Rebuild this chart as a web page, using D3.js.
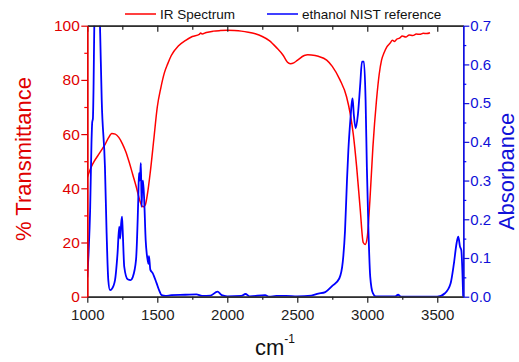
<!DOCTYPE html>
<html>
<head>
<meta charset="utf-8">
<script src="https://d3js.org/d3.v7.min.js"></script>
<style>
  body { margin: 0; background: #fff; }
  svg { font-family: 'Liberation Sans', Arial, sans-serif; }
</style>
</head>
<body>
<svg id="chart" width="519" height="362"></svg>
<script>
// IR spectrum (transmittance, %)
const irWavenumber = [1000, 1025, 1050, 1075, 1100, 1125, 1150, 1175, 1200, 1225, 1250, 1275, 1300, 1325, 1350, 1375, 1390, 1400, 1415, 1430, 1450, 1475, 1500, 1525, 1550, 1575, 1600, 1650, 1700, 1750, 1800, 1810, 1820, 1850, 1900, 1950, 2000, 2050, 2100, 2150, 2200, 2250, 2300, 2350, 2400, 2430, 2450, 2475, 2500, 2550, 2575, 2600, 2650, 2710, 2750, 2805, 2852, 2880, 2900, 2924, 2950, 2971, 2985, 3000, 3019, 3040, 3066, 3085, 3102, 3120, 3140, 3162, 3180, 3195, 3210, 3230, 3250, 3275, 3300, 3325, 3350, 3375, 3400, 3425, 3448]
const irTransmittance = [44, 47.5, 50, 52, 54, 56, 58.5, 60.2, 60, 58.8, 56.5, 53.5, 49.5, 45, 40.5, 35.5, 33.5, 33.2, 34, 38, 46, 58, 70, 77, 82.5, 86, 89, 92.5, 94.5, 96, 96.8, 97.3, 96.9, 97.5, 98, 98.2, 98.3, 98.2, 98, 97.6, 97, 96, 94.5, 92, 89, 86.5, 86, 86.3, 87.2, 89, 89.3, 89.2, 88.7, 87.3, 85, 80, 73.8, 67, 60, 48, 32, 20, 19.3, 22, 35.7, 55, 72.6, 82, 87.3, 90, 92.2, 93.5, 94.6, 94.2, 95, 95.4, 96.2, 95.8, 96.6, 96.4, 96.9, 96.8, 97.2, 97.1, 97.4]

// ethanol NIST reference (absorbance)
const refWavenumber = [1000, 1010, 1020, 1030, 1035, 1040, 1045, 1050, 1060, 1075, 1085, 1092, 1103, 1126, 1138, 1150, 1162, 1175, 1198, 1216, 1228, 1235, 1242, 1248, 1253, 1264, 1288, 1310, 1324, 1348, 1364, 1369, 1375, 1380, 1383, 1388, 1393, 1398, 1407, 1417, 1425, 1431, 1437, 1440, 1445, 1450, 1467, 1495, 1515, 1531, 1560, 1600, 1700, 1780, 1820, 1880, 1930, 1960, 2000, 2100, 2130, 2160, 2270, 2300, 2350, 2420, 2500, 2600, 2650, 2700, 2750, 2800, 2825, 2841, 2855, 2865, 2881, 2889, 2895, 2904, 2917, 2933, 2950, 2962, 2976, 2988, 2997, 3009, 3021, 3040, 3060, 3200, 3220, 3240, 3500, 3555, 3595, 3619, 3638, 3650, 3662, 3672, 3680, 3685]
const refAbsorbance = [0.05, 0.12, 0.22, 0.40, 0.45, 0.46, 0.55, 0.70, 0.78, 0.80, 0.78, 0.68, 0.508, 0.336, 0.164, 0.043, 0.017, 0.02, 0.043, 0.112, 0.181, 0.15, 0.19, 0.207, 0.17, 0.077, 0.045, 0.043, 0.05, 0.095, 0.25, 0.319, 0.30, 0.33, 0.345, 0.232, 0.29, 0.30, 0.245, 0.146, 0.11, 0.095, 0.085, 0.105, 0.09, 0.07, 0.061, 0.035, 0.015, 0.004, 0.002, 0.004, 0.005, 0.006, 0.002, 0.003, 0.013, 0.004, 0.001, 0.002, 0.007, 0.001, 0.004, 0.0, 0.002, 0.002, 0.001, 0.003, 0.008, 0.012, 0.028, 0.047, 0.09, 0.17, 0.3, 0.379, 0.465, 0.5, 0.512, 0.47, 0.435, 0.47, 0.55, 0.607, 0.607, 0.508, 0.336, 0.164, 0.052, 0.009, 0.001, 0.001, 0.005, 0.0, 0.0, 0.009, 0.034, 0.086, 0.138, 0.155, 0.13, 0.12, 0.06, 0.0]

const xMajorTicks = [1000, 1500, 2000, 2500, 3000, 3500]
const xMinorTicks = [1250, 1750, 2250, 2750, 3250]
const leftMajorTicks = [0, 20, 40, 60, 80, 100]
const leftMinorTicks = [10, 30, 50, 70, 90]
const rightMajorTicks = [0, 0.1, 0.2, 0.3, 0.4, 0.5, 0.6, 0.7]
const rightMinorTicks = [0.05, 0.15, 0.25, 0.35, 0.45, 0.55, 0.65]

const legendLabels = ['IR Spectrum', 'ethanol NIST reference']

const RED = '#ff0000'
const BLUE = '#0000ff'
const RED_TEXT = '#e00000'
const BLUE_TEXT = '#1010d8'

const margin = { top: 25.7, right: 55.7, bottom: 65.3, left: 87.3 }
const width = 519
const height = 362
const innerW = width - margin.left - margin.right
const innerH = height - margin.top - margin.bottom

const svg = d3.select('#chart')

const x = d3.scaleLinear().domain([1000, 3686]).range([margin.left, margin.left + innerW])
const yLeft = d3.scaleLinear().domain([0, 100]).range([margin.top + innerH, margin.top])
const yRight = d3.scaleLinear().domain([0, 0.7]).range([margin.top + innerH, margin.top])

function styleAxis(g, color, fontSize) {
  g.select('.domain').attr('stroke', color).attr('stroke-width', 1.3)
  g.selectAll('.tick line').attr('stroke', color).attr('stroke-width', 1.2)
  g.selectAll('.tick text').attr('fill', color).style('font-size', fontSize + 'px').style('font-family', 'Liberation Sans, Arial, sans-serif')
}

function buildClip() {
  svg.append('defs').append('clipPath').attr('id', 'plot-clip')
    .append('rect')
    .attr('x', margin.left)
    .attr('y', margin.top)
    .attr('width', innerW)
    .attr('height', innerH)
}

function buildLines() {
  const irData = irWavenumber.map((w, i) => ({ w, v: irTransmittance[i] }))
  const refData = refWavenumber.map((w, i) => ({ w, v: refAbsorbance[i] }))

  const irLine = d3.line().x((d) => x(d.w)).y((d) => yLeft(d.v)).curve(d3.curveMonotoneX)
  const refLine = d3.line().x((d) => x(d.w)).y((d) => yRight(d.v)).curve(d3.curveMonotoneX)

  const g = svg.append('g').attr('clip-path', 'url(#plot-clip)')

  g.append('path')
    .datum(irData)
    .attr('fill', 'none')
    .attr('stroke', RED)
    .attr('stroke-width', 1.5)
    .attr('d', irLine)

  g.append('path')
    .datum(refData)
    .attr('fill', 'none')
    .attr('stroke', BLUE)
    .attr('stroke-width', 1.8)
    .attr('d', refLine)
}

function buildAxes() {
  const bottomY = margin.top + innerH

  // bottom
  svg.append('g')
    .attr('transform', `translate(0,${bottomY})`)
    .call(d3.axisBottom(x).tickValues(xMinorTicks).tickFormat('').tickSize(3).tickSizeOuter(0))
    .call((g) => styleAxis(g, '#222', 15))
  svg.append('g')
    .attr('transform', `translate(0,${bottomY})`)
    .call(d3.axisBottom(x).tickValues(xMajorTicks).tickFormat(d3.format('d')).tickSize(6).tickPadding(7).tickSizeOuter(0))
    .call((g) => styleAxis(g, '#222', 15))

  // top (ticks inward)
  svg.append('g')
    .attr('transform', `translate(0,${margin.top})`)
    .call(d3.axisTop(x).tickValues(xMinorTicks).tickFormat('').tickSize(-4).tickSizeOuter(0))
    .call((g) => styleAxis(g, '#222', 15))
  svg.append('g')
    .attr('transform', `translate(0,${margin.top})`)
    .call(d3.axisTop(x).tickValues(xMajorTicks).tickFormat('').tickSize(-6).tickSizeOuter(0))
    .call((g) => styleAxis(g, '#222', 15))

  // left
  svg.append('g')
    .attr('transform', `translate(${margin.left},0)`)
    .call(d3.axisLeft(yLeft).tickValues(leftMinorTicks).tickFormat('').tickSize(3).tickSizeOuter(0))
    .call((g) => styleAxis(g, RED, 15.5))
  svg.append('g')
    .attr('transform', `translate(${margin.left},0)`)
    .call(d3.axisLeft(yLeft).tickValues(leftMajorTicks).tickFormat(d3.format('d')).tickSize(6).tickPadding(1.5).tickSizeOuter(0))
    .call((g) => styleAxis(g, RED_TEXT, 15.5))

  // right
  svg.append('g')
    .attr('transform', `translate(${margin.left + innerW},0)`)
    .call(d3.axisRight(yRight).tickValues(rightMinorTicks).tickFormat('').tickSize(3).tickSizeOuter(0))
    .call((g) => styleAxis(g, BLUE, 15))
  svg.append('g')
    .attr('transform', `translate(${margin.left + innerW},0)`)
    .call(d3.axisRight(yRight).tickValues(rightMajorTicks).tickFormat(d3.format('.1f')).tickSize(6).tickPadding(1).tickSizeOuter(0))
    .call((g) => styleAxis(g, BLUE_TEXT, 15))
}

function buildAxisTitles() {
  svg.append('text')
    .attr('transform', `translate(31,159) rotate(-90)`)
    .attr('text-anchor', 'middle')
    .attr('fill', RED_TEXT)
    .style('font-size', '22px')
    .text('% Transmittance')

  svg.append('text')
    .attr('transform', `translate(514,171.5) rotate(-90)`)
    .attr('text-anchor', 'middle')
    .attr('fill', BLUE_TEXT)
    .style('font-size', '22px')
    .text('Absorbance')

  const xt = svg.append('text')
    .attr('x', 255)
    .attr('y', 355)
    .attr('fill', '#111')
    .style('font-size', '22px')
  xt.append('tspan').text('cm')
  xt.append('tspan').attr('dy', -12).style('font-size', '12px').text('-1')
}

function buildLegend() {
  const items = [
    { label: legendLabels[0], color: RED, x0: 125 },
    { label: legendLabels[1], color: BLUE, x0: 267 }
  ]
  const g = svg.append('g')
  items.forEach((d) => {
    g.append('line')
      .attr('x1', d.x0)
      .attr('x2', d.x0 + 31)
      .attr('y1', 14)
      .attr('y2', 14)
      .attr('stroke', d.color)
      .attr('stroke-width', 1.5)
    g.append('text')
      .attr('x', d.x0 + 35)
      .attr('y', 18.7)
      .attr('fill', '#111')
      .style('font-size', '13.5px')
      .text(d.label)
  })
}

buildClip()
buildLines()
buildAxes()
buildAxisTitles()
buildLegend()
</script>
</body>
</html>
